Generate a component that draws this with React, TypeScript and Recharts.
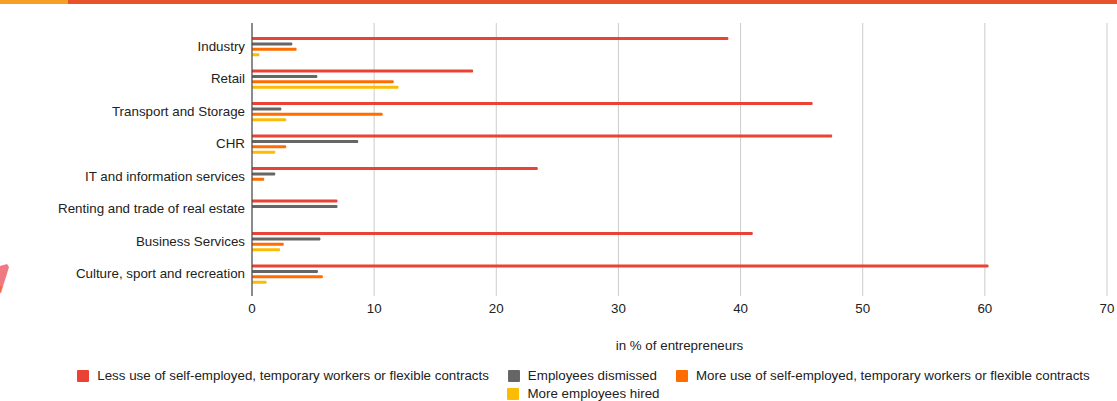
import React from "react";
import { BarChart, Bar, XAxis, YAxis, CartesianGrid } from "recharts";

const categories = [
  "Industry",
  "Retail",
  "Transport and Storage",
  "CHR",
  "IT and information services",
  "Renting and trade of real estate",
  "Business Services",
  "Culture, sport and recreation",
];

const lessFlexible = [39.0, 18.1, 45.9, 47.5, 23.4, 7.0, 41.0, 60.3];
const dismissed = [3.3, 5.35, 2.4, 8.7, 1.9, 7.0, 5.6, 5.4];
const moreFlexible = [3.65, 11.6, 10.7, 2.8, 1.0, 0, 2.6, 5.8];
const hired = [0.6, 12.0, 2.8, 1.9, 0, 0, 2.3, 1.2];

const xTicks = [0, 10, 20, 30, 40, 50, 60, 70];

const SERIES = [
  { key: "less", label: "Less use of self-employed, temporary workers or flexible contracts", color: "#ea4335", values: lessFlexible },
  { key: "dismissed", label: "Employees dismissed", color: "#666666", values: dismissed },
  { key: "more", label: "More use of self-employed, temporary workers or flexible contracts", color: "#ff6d01", values: moreFlexible },
  { key: "hired", label: "More employees hired", color: "#fbbc04", values: hired },
];

const data = categories.map((name, i) => {
  const row: Record<string, string | number> = { name };
  SERIES.forEach((s) => {
    row[s.key] = s.values[i];
  });
  return row;
});

const FONT = "'Liberation Sans', Arial, sans-serif";
const FONT_SIZE = 13.35;

export default function App() {
  return (
    <div style={{ position: "absolute", left: 0, top: 0, width: 1117, height: 401, background: "#fff", fontFamily: FONT, overflow: "hidden" }}>
      {/* page header stripe */}
      <div style={{ position: "absolute", left: 0, top: 0, width: 68, height: 4, background: "#f5a024" }} />
      <div style={{ position: "absolute", left: 68, top: 0, right: 0, height: 4, background: "#e8532b" }} />
      {/* side ornament */}
      <svg style={{ position: "absolute", left: 0, top: 260 }} width={14} height={40}>
        <polygon points="0,6 7,4 9,7 1,33 0,33" fill="#f07a84" />
        <polygon points="0,26 2,26 0,33" fill="#f26a3a" />
      </svg>

      <BarChart
        width={1117}
        height={401}
        data={data}
        layout="vertical"
        margin={{ top: 23, right: 10, bottom: 45, left: 0 }}
        barSize={3}
        barGap={2.4}
      >
        <CartesianGrid horizontal={false} stroke="#cccccc" />
        <XAxis
          type="number"
          domain={[0, 70]}
          ticks={xTicks}
          height={60}
          axisLine={false}
          tickLine={false}
          tick={{ fill: "#222", fontSize: FONT_SIZE, fontFamily: FONT }}
          label={{ value: "in % of entrepreneurs", position: "insideBottom", offset: 6, fill: "#222", fontSize: FONT_SIZE, fontFamily: FONT }}
        />
        <YAxis
          type="category"
          dataKey="name"
          width={252}
          padding={{ top: 7, bottom: 6 }}
          axisLine={{ stroke: "#333" }}
          tickLine={false}
          tickSize={5}
          interval={0}
          tick={{ fill: "#222", fontSize: FONT_SIZE, fontFamily: FONT }}
        />
        {SERIES.map((s) => (
          <Bar key={s.key} dataKey={s.key} fill={s.color} radius={1} isAnimationActive={false} />
        ))}
      </BarChart>

      <div
        style={{
          position: "absolute",
          left: 50,
          width: 1067,
          top: 369,
          display: "flex",
          flexWrap: "wrap",
          justifyContent: "center",
          rowGap: 4,
          columnGap: 19,
          fontSize: FONT_SIZE,
          color: "#222",
          lineHeight: "14px",
        }}
      >
        {SERIES.map((s) => (
          <div key={s.key} style={{ display: "flex", alignItems: "center", gap: 8 }}>
            <span style={{ width: 12, height: 12, background: s.color, borderRadius: 1, flex: "none" }} />
            <span>{s.label}</span>
          </div>
        ))}
      </div>
    </div>
  );
}
